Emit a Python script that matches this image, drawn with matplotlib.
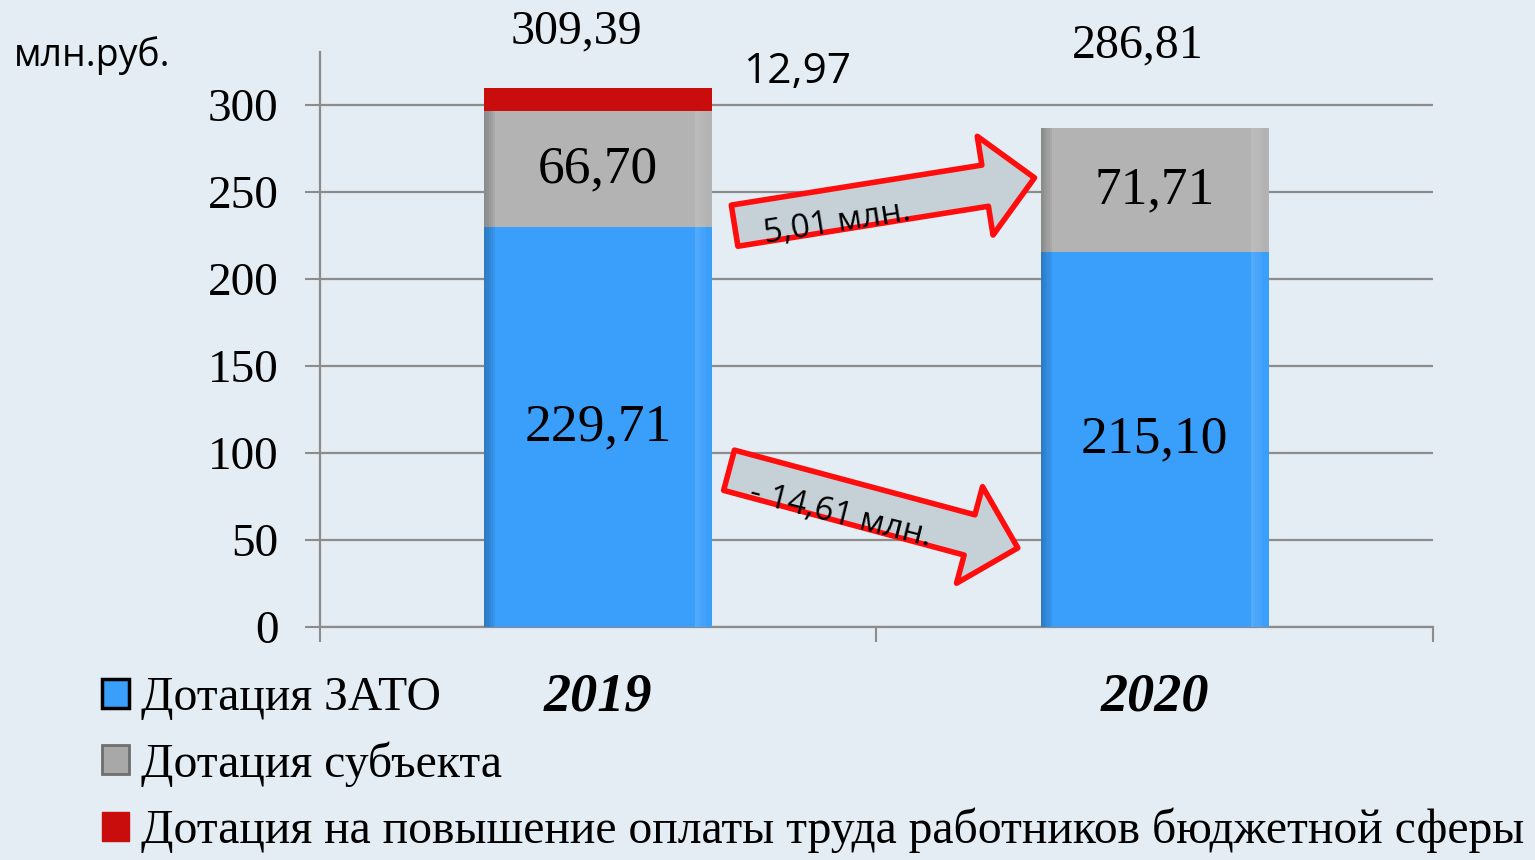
import numpy as np
import matplotlib
matplotlib.use("Agg")
import matplotlib.pyplot as plt
from matplotlib.patches import FancyArrowPatch, Patch

# data
years = ["2019", "2020"]
zato = [229.71, 215.10]
subject = [66.70, 71.71]
salary = [12.97, 0.0]
totals = [309.39, 286.81]
legend_labels = ["Дотация ЗАТО", "Дотация субъекта",
                 "Дотация на повышение оплаты труда работников бюджетной сферы"]
yticks = [0, 50, 100, 150, 200, 250, 300]

c_blue = "#3a9efb"
c_gray = "#b3b3b3"
c_red = "#c90d0d"
bg = "#e4edf4"
serif = "Liberation Serif"
sans = "Open Sans"


def fmt(v):
    return f"{v:.2f}".replace(".", ",")


fig = plt.figure(figsize=(15.35, 8.6), dpi=100)
fig.patch.set_facecolor(bg)
ax = fig.add_axes([0.2085, 0.271, 0.725, 0.668])
ax.set_facecolor(bg)

x = np.arange(len(years))
w = 0.41
top = np.array(zato) + np.array(subject)
ax.bar(x, zato, w, color=c_blue, zorder=3)
ax.bar(x, subject, w, bottom=zato, color=c_gray, zorder=3)
ax.bar(x, salary, w, bottom=top, color=c_red, zorder=3)

# soft shading on the bar sides (blue and grey parts)
edge = 0.004
for k in range(5):
    ax.bar(x - w / 2 + edge * (k + 0.5), top, edge, color="black",
           alpha=0.22 - 0.04 * k, zorder=4, linewidth=0)
    ax.bar(x + w / 2 - 0.012 - edge * (k + 0.5), top, edge, color="white",
           alpha=0.05 + 0.02 * k, zorder=4, linewidth=0)

ax.set_xlim(-0.5, 1.5)
ax.set_ylim(0, 330)
ax.set_yticks(yticks)
ax.set_yticklabels([str(v) for v in yticks], fontfamily=serif, fontsize=34)
ax.set_xticks([-0.5, 0.5, 1.5])
ax.set_xticklabels([])
ax.tick_params(axis="y", length=11, width=1.5, color="#8c8c8c", pad=19)
ax.tick_params(axis="x", length=11, width=1.5, color="#8c8c8c")
ax.grid(axis="y", color="#8c8c8c", linewidth=1.6, zorder=1)
for s in ["top", "right"]:
    ax.spines[s].set_visible(False)
for s in ["left", "bottom"]:
    ax.spines[s].set_color("#8c8c8c")
    ax.spines[s].set_linewidth(1.6)

# year labels
for i, yr in enumerate(years):
    ax.text(x[i], -26, yr, ha="center", va="top", fontfamily=serif,
            fontsize=39, fontweight="bold", fontstyle="italic")

# segment labels
for i in range(len(years)):
    ax.text(x[i], zato[i] / 2, fmt(zato[i]), ha="center", va="center",
            fontfamily=serif, fontsize=38.5, zorder=5)
    ax.text(x[i], zato[i] + subject[i] / 2, fmt(subject[i]), ha="center",
            va="center", fontfamily=serif, fontsize=38.5, zorder=5)

ax.text(x[0] - 0.04, 342, fmt(totals[0]), ha="center", va="center",
        fontfamily=serif, fontsize=34.5, clip_on=False)
ax.text(x[1] - 0.03, 334, fmt(totals[1]), ha="center", va="center",
        fontfamily=serif, fontsize=34.5, clip_on=False)
ax.text(x[0] + 0.357, 319, fmt(salary[0]), ha="center", va="center",
        fontfamily=sans, fontsize=30.5, clip_on=False)

fig.text(0.009, 0.935, "млн.руб.", fontfamily=sans, fontsize=27, va="center")

# change arrows
d_subj = subject[1] - subject[0]
d_zato = zato[1] - zato[0]
style = "simple,head_length=36,head_width=72,tail_width=30"
for a, b in [((0.245, 230.5), (0.784, 258)), ((0.235, 90), (0.754, 45.4))]:
    ax.add_patch(FancyArrowPatch(a, b, arrowstyle=style, mutation_scale=1,
                                 shrinkA=0, shrinkB=0, facecolor="#c6d0d7",
                                 edgecolor="#ff0d0d", linewidth=4, zorder=6))
ax.text(0.43, 232, fmt(d_subj) + " млн.", rotation=9, ha="center", va="center",
        fontfamily=sans, fontsize=24, zorder=7, rotation_mode="anchor")
ax.text(0.435, 64, "- " + fmt(abs(d_zato)) + " млн.", rotation=-14,
        ha="center", va="center", fontfamily=sans, fontsize=24, zorder=7,
        rotation_mode="anchor")

# legend
handles = [Patch(facecolor=c_blue, edgecolor="black", linewidth=2.5),
           Patch(facecolor="#a8a8a8", edgecolor="#6e6e6e", linewidth=2),
           Patch(facecolor=c_red, edgecolor=c_red)]
fig.legend(handles, legend_labels, loc="lower left", bbox_to_anchor=(0.054, -0.014),
           frameon=False, prop={"family": serif, "size": 34.3},
           handlelength=0.56, handleheight=0.56, handletextpad=0.25,
           labelspacing=0.44, borderaxespad=0)

fig.savefig("out.png", dpi=100, facecolor=fig.get_facecolor())
